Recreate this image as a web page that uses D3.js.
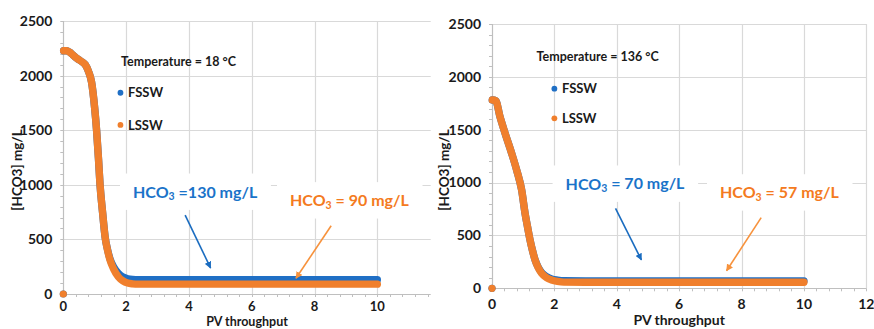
<!DOCTYPE html>
<html>
<head>
<meta charset="utf-8">
<script src="https://cdn.jsdelivr.net/npm/d3@7"></script>
<style>
  html, body { margin: 0; padding: 0; background: #fff; }
  svg { display: block; }
  text { font-family: Lato, "Open Sans", sans-serif; font-weight: 700; }
</style>
</head>
<body>
<svg id="chart" width="874" height="329"></svg>
<script>
// ---------- DATA ----------
// Panel A: Temperature = 18 °C
const pv18 =   [0, 0.01, 0.1, 0.2, 0.3, 0.4, 0.5, 0.6, 0.7, 0.8, 0.9, 1.0, 1.06, 1.12, 1.17, 1.25, 1.33, 1.41, 1.49, 1.6, 1.75, 1.9, 2.05, 2.2, 2.4, 3, 4, 5, 6, 7, 8, 9, 10];
const fssw18 = [0, 2228, 2228, 2215, 2190, 2165, 2145, 2125, 2100, 2040, 1940, 1700, 1500, 1240, 1000, 750, 525, 405, 320, 250, 190, 155, 140, 133, 130, 130, 130, 130, 130, 130, 130, 130, 130];
const lssw18 = [0, 2228, 2228, 2215, 2190, 2165, 2145, 2125, 2100, 2040, 1940, 1700, 1500, 1240, 1000, 750, 525, 400, 310, 230, 158, 120, 100, 93, 90, 90, 90, 90, 90, 90, 90, 90, 90];
// Panel B: Temperature = 136 °C
const pv136 =   [0, 0.01, 0.12, 0.25, 0.42, 0.63, 0.79, 0.95, 1.06, 1.14, 1.22, 1.3, 1.38, 1.48, 1.59, 1.75, 1.91, 2.1, 2.3, 3, 4, 5, 6, 7, 8, 9, 10];
const fssw136 = [0, 1781, 1775, 1630, 1466, 1277, 1119, 930, 709, 580, 457, 355, 270, 200, 150, 110, 88, 77, 71, 70, 70, 70, 70, 70, 70, 70, 70];
const lssw136 = [0, 1781, 1775, 1630, 1466, 1277, 1119, 930, 709, 580, 457, 355, 268, 195, 142, 100, 79, 65, 58, 57, 57, 57, 57, 57, 57, 57, 57];

const seriesNames = ["FSSW", "LSSW"];
const yTicks = [0, 500, 1000, 1500, 2000, 2500];
const xTicks18 = [0, 2, 4, 6, 8, 10];
const xTicks136 = [0, 2, 4, 6, 8, 10, 12];
const tempLabels = ["Temperature = 18 °C", "Temperature = 136 °C"];
const fsswNotes = ["\u00a0=130 mg/L", "\u00a0= 70 mg/L"];
const lsswNotes = ["\u00a0= 90 mg/L", "\u00a0= 57 mg/L"];
const yTitle = "[HCO3] mg/L";
const xTitle = "PV throughput";

// ---------- STYLE ----------
const BLUE = "#1f6fc5", ORANGE = "#f07f2c";
const BLUE_TXT = "#1a73c9", ORANGE_TXT = "#f47a20";
const GRID = "#d9d9d9", AXIS = "#bfbfbf", TXT = "#1a1a1a";

const svg = d3.select("#chart");
const defs = svg.append("defs");
[["arrBlue", "#1a6cc0"], ["arrOrange", "#f7923c"]].forEach(([id, c]) => {
  defs.append("marker").attr("id", id).attr("viewBox", "0 0 10 10")
    .attr("refX", 9).attr("refY", 5).attr("markerWidth", 7).attr("markerHeight", 7)
    .attr("markerUnits", "userSpaceOnUse").attr("orient", "auto")
    .append("path").attr("d", "M0,0 L10,5 L0,10 Z").attr("fill", c);
});

function panel(cfg) {
  const g = svg.append("g");
  const x = d3.scaleLinear().domain(cfg.xDomain).range(cfg.xRange);
  const y = d3.scaleLinear().domain([0, 2500]).range(cfg.yRange);
  const [x0, x1] = cfg.xRange, [y0, y1] = cfg.yRange;

  // horizontal gridlines
  g.append("g").selectAll("line").data(yTicks.filter(d => d > 0)).join("line")
    .attr("x1", x0).attr("x2", x1).attr("y1", d => Math.round(y(d)) + 0.5).attr("y2", d => Math.round(y(d)) + 0.5)
    .attr("stroke", GRID).attr("stroke-width", 1.2);
  // vertical gridlines
  g.append("g").selectAll("line").data(cfg.xTicks.filter(d => d > 0)).join("line")
    .attr("x1", d => Math.round(x(d)) + 0.5).attr("x2", d => Math.round(x(d)) + 0.5).attr("y1", y0).attr("y2", y1)
    .attr("stroke", GRID).attr("stroke-width", 1.2);

  // minor ticks
  const yMinor = d3.range(0, 2501, 100);
  g.append("g").selectAll("line").data(yMinor).join("line")
    .attr("x1", x0 - 3).attr("x2", x0).attr("y1", d => Math.round(y(d)) + 0.5).attr("y2", d => Math.round(y(d)) + 0.5)
    .attr("stroke", AXIS);
  const xMinor = d3.range(0, cfg.xDomain[1] + 0.001, 0.4);
  g.append("g").selectAll("line").data(xMinor).join("line")
    .attr("x1", d => Math.round(x(d)) + 0.5).attr("x2", d => Math.round(x(d)) + 0.5).attr("y1", y0).attr("y2", y0 + 3)
    .attr("stroke", AXIS);

  // axes lines
  g.append("line").attr("x1", x0).attr("x2", x1).attr("y1", Math.round(y0) + 0.5).attr("y2", Math.round(y0) + 0.5)
    .attr("stroke", AXIS).attr("stroke-width", 1.2);
  g.append("line").attr("x1", Math.round(x0) + 0.5).attr("x2", Math.round(x0) + 0.5).attr("y1", y0).attr("y2", y1)
    .attr("stroke", AXIS).attr("stroke-width", 1.2);

  // tick labels
  g.append("g").selectAll("text").data(yTicks).join("text")
    .attr("x", x0 - 11).attr("y", d => y(d)).attr("dy", "0.35em")
    .attr("text-anchor", "end").attr("font-size", 14).attr("fill", TXT).text(d => d);
  g.append("g").selectAll("text").data(cfg.xTicks).join("text")
    .attr("x", d => x(d)).attr("y", y0 + cfg.xLabelOff).attr("dy", "0.35em")
    .attr("text-anchor", "middle").attr("font-size", cfg.xTickSize).attr("fill", TXT).text(d => d);

  // axis titles
  g.append("text").attr("transform", `translate(${cfg.yTitleX},170) rotate(-90)`)
    .attr("text-anchor", "middle").attr("dy", "0.35em").attr("font-size", 13.5).attr("fill", TXT).text(yTitle);
  g.append("text").attr("x", (x0 + x1) / 2).attr("y", cfg.xTitleBase)
    .attr("text-anchor", "middle").attr("font-size", cfg.xTitleSize).attr("fill", TXT).text(xTitle);

  // annotation text with white box
  function note(tx, ty, txt, color) {
    const t = g.append("text").attr("x", x(tx)).attr("y", y(ty)).attr("dy", "0.35em")
      .attr("font-size", 16).attr("fill", color);
    t.append("tspan").text("HCO");
    t.append("tspan").attr("font-size", 10.5).attr("dy", "0.22em").text("3");
    t.append("tspan").attr("dy", "-0.15em").text(txt);
    const b = t.node().getBBox();
    g.insert("rect", () => t.node())
      .attr("x", b.x - 13).attr("y", b.y - 8).attr("width", b.width + 26).attr("height", b.height + 16)
      .attr("fill", "#fff");
  }
  note(cfg.blueNote[0], cfg.blueNote[1], cfg.blueText, BLUE_TXT);
  note(cfg.orangeNote[0], cfg.orangeNote[1], cfg.orangeText, ORANGE_TXT);

  // series: first value drawn as a lone marker, the rest as a dense marker band
  [[cfg.fssw, BLUE], [cfg.lssw, ORANGE]].forEach(([vals, c]) => {
    const idx = d3.range(1, vals.length);
    g.append("path")
      .attr("d", d3.line().x(i => x(cfg.pv[i])).y(i => y(vals[i])).curve(d3.curveMonotoneX)(idx))
      .attr("fill", "none").attr("stroke", c).attr("stroke-width", 7.4)
      .attr("stroke-linecap", "round").attr("stroke-linejoin", "round");
    g.append("circle").attr("cx", x(cfg.pv[0])).attr("cy", y(vals[0])).attr("r", 3.6).attr("fill", c);
  });

  // arrows
  const arrows = [[cfg.blueArrow, "#1a6cc0", "arrBlue"], [cfg.orangeArrow, "#f7923c", "arrOrange"]];
  arrows.forEach(([a, c, m]) => {
    g.append("line").attr("x1", x(a[0])).attr("y1", y(a[1])).attr("x2", x(a[2])).attr("y2", y(a[3]))
      .attr("stroke", c).attr("stroke-width", 1.6).attr("marker-end", `url(#${m})`);
  });

  // temperature + legend
  g.append("text").attr("x", x(cfg.temp[0])).attr("y", y(cfg.temp[1])).attr("dy", "0.35em")
    .attr("font-size", 12.5).attr("fill", TXT).text(cfg.tempLabel);
  seriesNames.forEach((name, i) => {
    const ly = cfg.legendY[i];
    g.append("circle").attr("cx", x(cfg.legendX)).attr("cy", y(ly)).attr("r", 2.9).attr("fill", i === 0 ? BLUE : ORANGE);
    g.append("text").attr("x", x(cfg.legendX) + 7.5).attr("y", y(ly)).attr("dy", "0.35em")
      .attr("font-size", 13).attr("fill", TXT).text(name);
  });
}

panel({
  pv: pv18, fssw: fssw18, lssw: lssw18,
  xDomain: [0, 11.7], xRange: [63.3, 430.7], yRange: [294, 21],
  xTicks: xTicks18, xLabelOff: 12, xTickSize: 13, xTitleBase: 326.2, xTitleSize: 12.5, yTitleX: 17,
  tempLabel: tempLabels[0], temp: [1.84, 2130],
  legendX: 1.82, legendY: [1843, 1548],
  blueNote: [2.22, 934], blueText: fsswNotes[0],
  orangeNote: [7.22, 855], orangeText: lsswNotes[0],
  blueArrow: [3.88, 723, 4.69, 238], orangeArrow: [8.53, 625, 7.41, 144]
});
panel({
  pv: pv136, fssw: fssw136, lssw: lssw136,
  xDomain: [0, 12], xRange: [492, 866.3], yRange: [288.3, 24],
  xTicks: xTicks136, xLabelOff: 16, xTickSize: 14, xTitleBase: 325, xTitleSize: 14, yTitleX: 444,
  tempLabel: tempLabels[1], temp: [1.43, 2191],
  legendX: 2.0, legendY: [1888, 1608],
  blueNote: [2.36, 987], blueText: fsswNotes[1],
  orangeNote: [7.31, 904], orangeText: lsswNotes[1],
  blueArrow: [3.96, 757, 4.79, 268], orangeArrow: [8.63, 668, 7.52, 166]
});
</script>
</body>
</html>
